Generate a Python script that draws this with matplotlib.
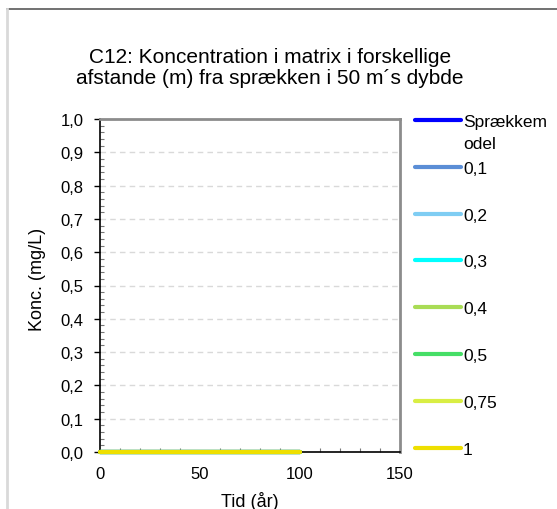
import matplotlib
matplotlib.use("Agg")
import matplotlib.pyplot as plt
from matplotlib.lines import Line2D
from matplotlib.ticker import MultipleLocator, FuncFormatter

plt.rcParams['font.family'] = ['Liberation Sans', 'DejaVu Sans']

# data: all series stay at 0 over the simulated period
tid = [0, 100]
serie_navne = ["Sprækkem\nodel", "0,1", "0,2", "0,3", "0,4", "0,5", "0,75", "1"]
serie_farver = ["#0000FF", "#5B8ED6", "#7FCDF3", "#00FFFF",
                "#A9DC55", "#45DE66", "#D9EE44", "#EEDF00"]
koncentrationer = [
    [0.0, 0.0],
    [0.0, 0.0],
    [0.0, 0.0],
    [0.0, 0.0],
    [0.0, 0.0],
    [0.0, 0.0],
    [0.0, 0.0],
    [0.0, 0.0],
]

W, H = 557, 510
fig = plt.figure(figsize=(W / 100, H / 100), dpi=100)
ax = fig.add_axes([100 / W, 1 - 453 / H, 300 / W, 333 / H])

for konc, farve in zip(koncentrationer, serie_farver):
    ax.plot(tid, konc, color=farve, lw=3, solid_capstyle='round', clip_on=False, zorder=3)

ax.set_xlim(0, 150)
ax.set_ylim(0, 1.0)
ax.xaxis.set_major_locator(MultipleLocator(50))
ax.xaxis.set_minor_locator(MultipleLocator(10))
ax.yaxis.set_major_locator(MultipleLocator(0.1))
ax.yaxis.set_minor_locator(MultipleLocator(0.02))
ax.yaxis.set_major_formatter(FuncFormatter(lambda v, p: f"{v:.1f}".replace(".", ",")))
ax.xaxis.set_major_formatter(FuncFormatter(lambda v, p: f"{v:.0f}"))

ax.tick_params(which='major', direction='out', length=4, width=1, labelsize=12)
ax.tick_params(axis='y', which='major', pad=8)
ax.tick_params(which='minor', direction='in', length=3, width=0.8, color='#777777')
ax.tick_params(axis='x', which='major', length=0, pad=10)

ax.grid(axis='y', which='major', color='#D9D9D9', ls=(0, (4, 3)), lw=1)
ax.set_axisbelow(True)

for s in ['left', 'bottom']:
    ax.spines[s].set_color('black')
    ax.spines[s].set_linewidth(1.2)
for s in ['top', 'right']:
    ax.spines[s].set_color('#8C8C8C')
    ax.spines[s].set_linewidth(2)

ax.set_xlabel("Tid (år)", fontsize=13, va='center')
ax.xaxis.set_label_coords(0.5, (453 - 502) / 333)
ax.set_ylabel("Konc. (mg/L)", fontsize=13, va='center')
ax.yaxis.set_label_coords((38 - 100) / 300, (453 - 279) / 333)

fig.text(270 / W, 1 - 68 / H,
         "C12: Koncentration i matrix i forskellige\nafstande (m) fra sprækken i 50 m´s dybde",
         ha='center', va='center', fontsize=15, linespacing=1.1)

# legend drawn by hand, Excel style (wrapped labels one line at a time)
y0, dy = 121, 46.8
for i, (navn, farve) in enumerate(zip(serie_navne, serie_farver)):
    yp = y0 + i * dy
    y = 1 - yp / H
    fig.add_artist(Line2D([415 / W, 461 / W], [y, y], color=farve, lw=3,
                          solid_capstyle='round', transform=fig.transFigure))
    for k, linje in enumerate(navn.split("\n")):
        fig.text(463 / W, 1 - (yp + k * 22) / H, linje, ha='left',
                 va='center_baseline', fontsize=12.5)

# chart area border (partly visible)
fig.add_artist(Line2D([7 / W, 1], [1 - 10 / H, 1 - 10 / H], color='#595959', lw=1.2,
                      transform=fig.transFigure))
fig.add_artist(Line2D([6.5 / W, 6.5 / W], [0, 1 - 10 / H], color='#D9D9D9', lw=2,
                      transform=fig.transFigure))

fig.savefig("out.png", dpi=100)
